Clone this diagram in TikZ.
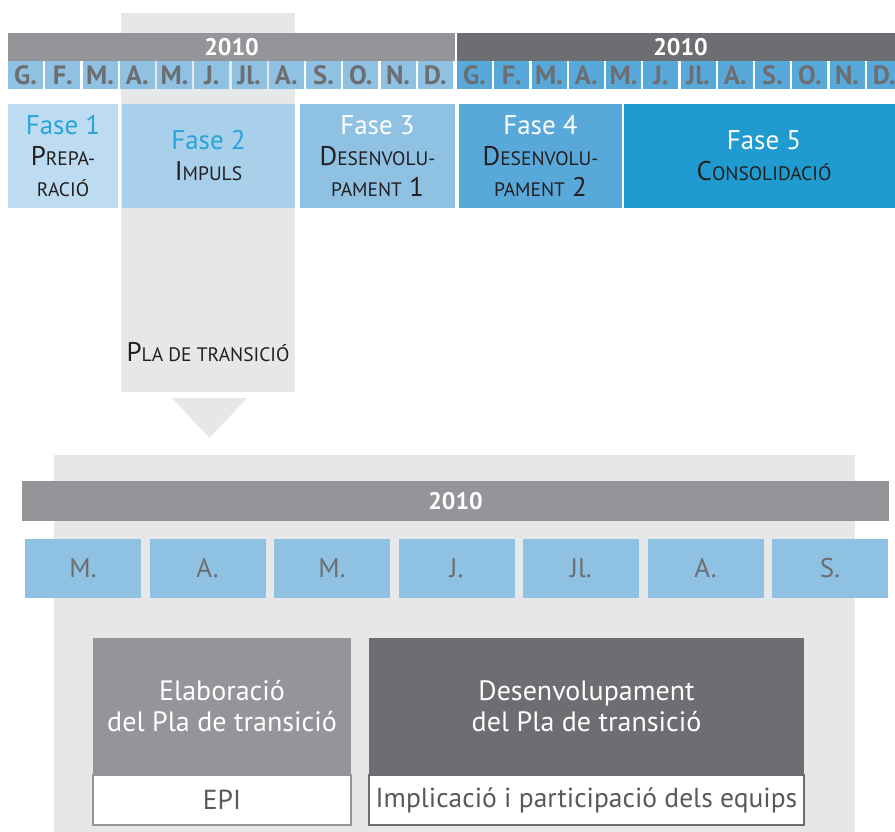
\documentclass[tikz,border=0pt]{standalone}
\usepackage{fontspec}
\setmainfont{PT Sans}
\usetikzlibrary{positioning}

\definecolor{panelgray}{HTML}{E6E7E8}
\definecolor{bargray}{HTML}{939598}
\definecolor{bardark}{HTML}{6D6E71}
\definecolor{monthlight}{HTML}{8FC1E3}
\definecolor{monthmid}{HTML}{58A9DA}
\definecolor{fasea}{HTML}{BDDCF1}
\definecolor{faseb}{HTML}{A9D0EB}
\definecolor{fasee}{HTML}{1F9BD0}
\definecolor{faseblue}{HTML}{2AA3D9}
\definecolor{inkdark}{HTML}{231F20}
\definecolor{inkgray}{HTML}{58595B}

% small caps by hand: first letter full size, the rest smaller
\newcommand\smc[2]{{\fontsize{27}{31}\selectfont #1}{\fontsize{19.5}{31}\selectfont #2}}

\begin{document}
\begin{tikzpicture}[x=1pt,y=-1pt,
  box/.style={rectangle,inner sep=0pt,outer sep=0pt,anchor=north west},
  yearbar/.style={box,minimum height=28,text=white,font=\fontsize{24}{24}\selectfont\bfseries},
  monthcell/.style={box,minimum width=35,minimum height=28,text=bardark,font=\fontsize{26.5}{26.5}\selectfont\bfseries},
  phase/.style={box,minimum height=104,align=center,text=inkdark,font=\fontsize{27}{31}\selectfont},
  bigmonth/.style={box,minimum width=116,minimum height=59,fill=monthlight,text=bardark,font=\fontsize{27}{27}\selectfont},
  headbox/.style={box,minimum height=137,align=center,text=white,font=\fontsize{28}{31}\selectfont},
  footbox/.style={box,minimum height=50,fill=white,line width=1.5pt,text=inkgray,font=\fontsize{27.5}{27.5}\selectfont}]
\clip (0,0) rectangle (895,832);

% grey column behind Fase 2
\fill[panelgray] (121,13) rectangle (295,392);

% year bars and months
\node[yearbar,fill=bargray,minimum width=447] (yearA) at (8,33) {2010};
\node[yearbar,fill=bardark,minimum width=447] (yearB) at (457,33) {2010};
\foreach \m [count=\i from 0] in {G.,F.,M.,A.,M.,J.,Jl.,A.,S.,O.,N.,D.} {
  \node[monthcell,fill=monthlight] (mA\i) at ({8+\i*37.25},61) {\m};
  \node[monthcell,fill=monthmid] (mB\i) at ({457+\i*37.25},61) {\m};
}

% phases
\node[phase,fill=fasea,minimum width=110] (fase1) at (8,104)
  {\textcolor{faseblue}{Fase 1}\\\smc{P}{REPA-}\\\smc{}{RACIÓ}};
\node[phase,fill=faseb,minimum width=173] (fase2) at (122,104)
  {\textcolor{faseblue}{Fase 2}\\\smc{I}{MPULS}};
\node[phase,fill=monthlight,minimum width=155] (fase3) at (300,104)
  {\textcolor{white}{Fase 3}\\\smc{D}{ESENVOLU-}\\\smc{}{PAMENT} 1};
\node[phase,fill=monthmid,minimum width=163] (fase4) at (459,104)
  {\textcolor{white}{Fase 4}\\\smc{D}{ESENVOLU-}\\\smc{}{PAMENT} 2};
\node[phase,fill=fasee,minimum width=280] (fase5) at (624,104)
  {\textcolor{white}{Fase 5}\\\smc{C}{ONSOLIDACIÓ}};

\node[text=inkdark] (pla) at (208,352) {\smc{P}{LA DE TRANSICIÓ}};
\fill[panelgray] (172,398) -- (247,398) -- (209.5,438) -- cycle;

% detail of the transition plan
\fill[panelgray] (54,455) rectangle (855,832);
\node[yearbar,fill=bargray,minimum width=867,minimum height=40] (year) at (22,481) {2010};
\foreach \m [count=\i from 0] in {M.,A.,M.,J.,Jl.,A.,S.} {
  \node[bigmonth] (pm\i) at ({25+\i*124.5},539) {\m};
}

\node[headbox,fill=bargray,minimum width=258] (elab) at (93,638) {Elaboració\\del Pla de transició};
\node[footbox,draw=bargray,minimum width=258,below=0pt of elab] (epi) {EPI};
\node[headbox,fill=bardark,minimum width=435] (desen) at (369,638) {Desenvolupament\\del Pla de transició};
\node[footbox,draw=bardark,minimum width=435,below=0pt of desen] (equips) {Implicació i participació dels equips};
\end{tikzpicture}
\end{document}
